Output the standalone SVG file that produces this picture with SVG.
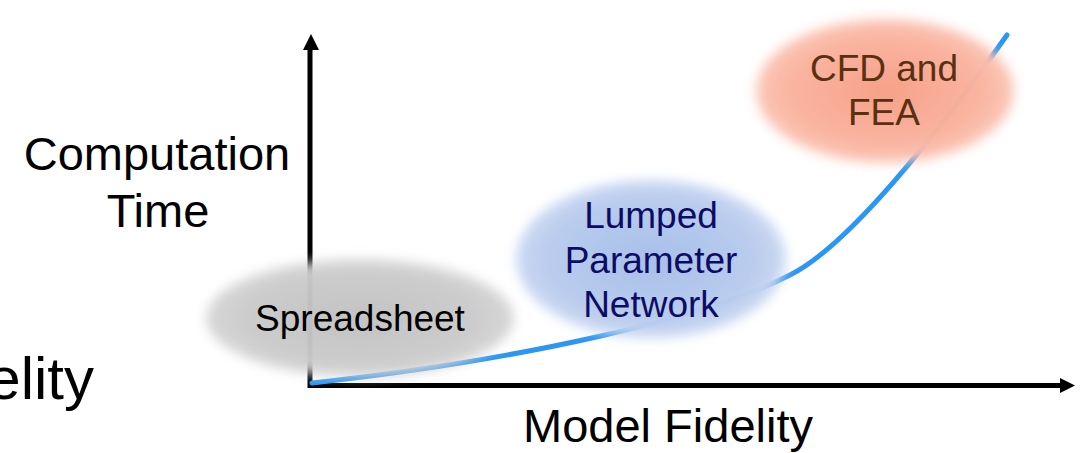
<svg xmlns="http://www.w3.org/2000/svg" width="1086" height="453" viewBox="0 0 1086 453">
<style>
  text { font-family: "Liberation Sans", Arial, sans-serif; text-anchor: middle; }
  .big { font-size: 47px; fill: #000; }
  .lbl { font-size: 37px; }
  .axis { stroke: #000; stroke-width: 5; fill: none; }
  .curve { stroke: #2b97f4; stroke-width: 5; fill: none; stroke-linecap: round; }
</style>
<defs>
  <filter id="soft" x="-20%" y="-30%" width="140%" height="160%">
    <feGaussianBlur stdDeviation="6"/>
  </filter>
  <radialGradient id="gGray" cx="0.5" cy="0.5" r="0.5">
    <stop offset="0" stop-color="#c2c2c2"/>
    <stop offset="0.75" stop-color="#cbcbcb"/>
    <stop offset="1" stop-color="#d6d6d6"/>
  </radialGradient>
  <radialGradient id="gBlue" cx="0.5" cy="0.5" r="0.5">
    <stop offset="0" stop-color="#a6bee9"/>
    <stop offset="0.75" stop-color="#b8cbed"/>
    <stop offset="1" stop-color="#cad8f2"/>
  </radialGradient>
  <radialGradient id="gRed" cx="0.5" cy="0.5" r="0.5">
    <stop offset="0" stop-color="#f79f86"/>
    <stop offset="0.75" stop-color="#f9b4a0"/>
    <stop offset="1" stop-color="#fbc6b6"/>
  </radialGradient>
</defs>
<rect width="1086" height="453" fill="#fff"/>
<g id="axes">
  <path class="axis" d="M310,388 V48"/>
  <polygon points="303,50 311,34 319,50" fill="#000"/>
  <path class="axis" d="M308,385.5 H1062"/>
  <polygon points="1060,378 1075,385.5 1060,393" fill="#000"/>
</g>
<g id="connectors">
  <path class="curve" d="M312,383 C520,360 700,320 790,275 C850,245 940,130 1007,35"/>
</g>
<g id="node-spreadsheet">
  <ellipse cx="360" cy="318" rx="154" ry="59" fill="url(#gGray)" filter="url(#soft)" opacity="0.97"/>
  <text class="lbl" x="360" y="331" fill="#000">Spreadsheet</text>
</g>
<g id="node-lumped">
  <ellipse cx="651" cy="259" rx="135" ry="79" fill="url(#gBlue)" filter="url(#soft)" opacity="0.98"/>
  <text class="lbl" fill="#0c0c66"><tspan x="651" y="228">Lumped</tspan><tspan x="651" y="273">Parameter</tspan><tspan x="651" y="317">Network</tspan></text>
</g>
<g id="node-cfd">
  <ellipse cx="885" cy="91" rx="129" ry="72" fill="url(#gRed)" filter="url(#soft)" opacity="0.98"/>
  <text class="lbl" fill="#5a3010"><tspan x="884" y="81">CFD and</tspan><tspan x="884" y="125">FEA</tspan></text>
</g>
<g id="labels">
  <text class="big"><tspan x="157" y="170">Computation</tspan><tspan x="158" y="227">Time</tspan></text>
  <text class="big" x="668" y="442">Model Fidelity</text>
  <text x="94" y="399" style="font-size:60px; text-anchor:end; fill:#000">elity</text>
</g>
</svg>
